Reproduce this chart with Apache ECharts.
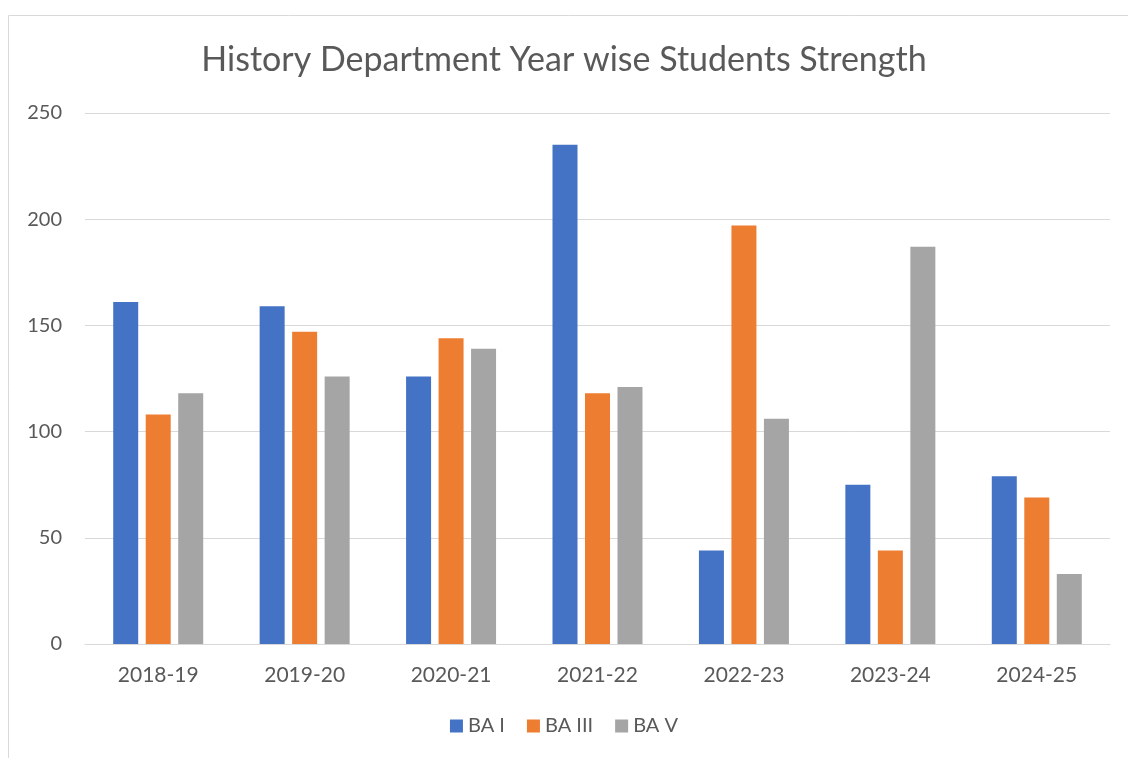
<!DOCTYPE html>
<html>
<head>
<meta charset="utf-8">
<script src="https://cdn.jsdelivr.net/npm/echarts@6/dist/echarts.min.js"></script>
<style>
  html, body { margin: 0; padding: 0; background: #fff; }
  #chart { width: 1128px; height: 758px; }
</style>
</head>
<body>
<div id="chart"></div>
<script>
// 数据
const years = ['2018-19', '2019-20', '2020-21', '2021-22', '2022-23', '2023-24', '2024-25']
const baI = [161, 159, 126, 235, 44, 75, 79]
const baIII = [108, 147, 144, 118, 197, 44, 69]
const baV = [118, 126, 139, 121, 106, 187, 33]
const yTicks = [0, 50, 100, 150, 200, 250]

const textColor = '#595959'
const font = 'Lato, "Open Sans", sans-serif'

const chart = echarts.init(document.getElementById('chart'))

const bar = (name, data, color) => ({
  name,
  type: 'bar',
  data,
  barWidth: 25,
  barGap: '30%',
  itemStyle: { color }
})

chart.setOption({
  animation: false,
  textStyle: { fontFamily: font },
  graphic: [{
    type: 'rect',
    shape: { x: 8.5, y: 15.5, width: 1140, height: 760 },
    style: { fill: 'none', stroke: '#d9d9d9', lineWidth: 1 },
    silent: true
  }],
  title: {
    text: 'History Department Year wise Students Strength',
    left: 'center',
    top: 38,
    textStyle: { fontSize: 34, fontWeight: 'normal', color: textColor, fontFamily: font }
  },
  legend: {
    bottom: 17,
    left: 'center',
    itemWidth: 13,
    itemHeight: 13,
    itemGap: 22,
    icon: 'rect',
    textStyle: { fontSize: 20, color: textColor, fontFamily: font }
  },
  grid: { left: 85, right: 18, top: 113, bottom: 114 },
  xAxis: {
    type: 'category',
    data: years,
    axisLine: { lineStyle: { color: '#d9d9d9', width: 1 } },
    axisTick: { show: false },
    axisLabel: { fontSize: 21, color: textColor, margin: 21, fontFamily: font }
  },
  yAxis: {
    type: 'value',
    min: yTicks[0],
    max: yTicks[yTicks.length - 1],
    interval: 50,
    axisLine: { show: false },
    axisTick: { show: false },
    splitLine: { lineStyle: { color: '#d9d9d9', width: 1 } },
    axisLabel: { fontSize: 20, color: textColor, margin: 23, fontFamily: font }
  },
  series: [
    bar('BA I', baI, '#4472c4'),
    bar('BA III', baIII, '#ed7d31'),
    bar('BA V', baV, '#a5a5a5')
  ]
})
</script>
</body>
</html>
